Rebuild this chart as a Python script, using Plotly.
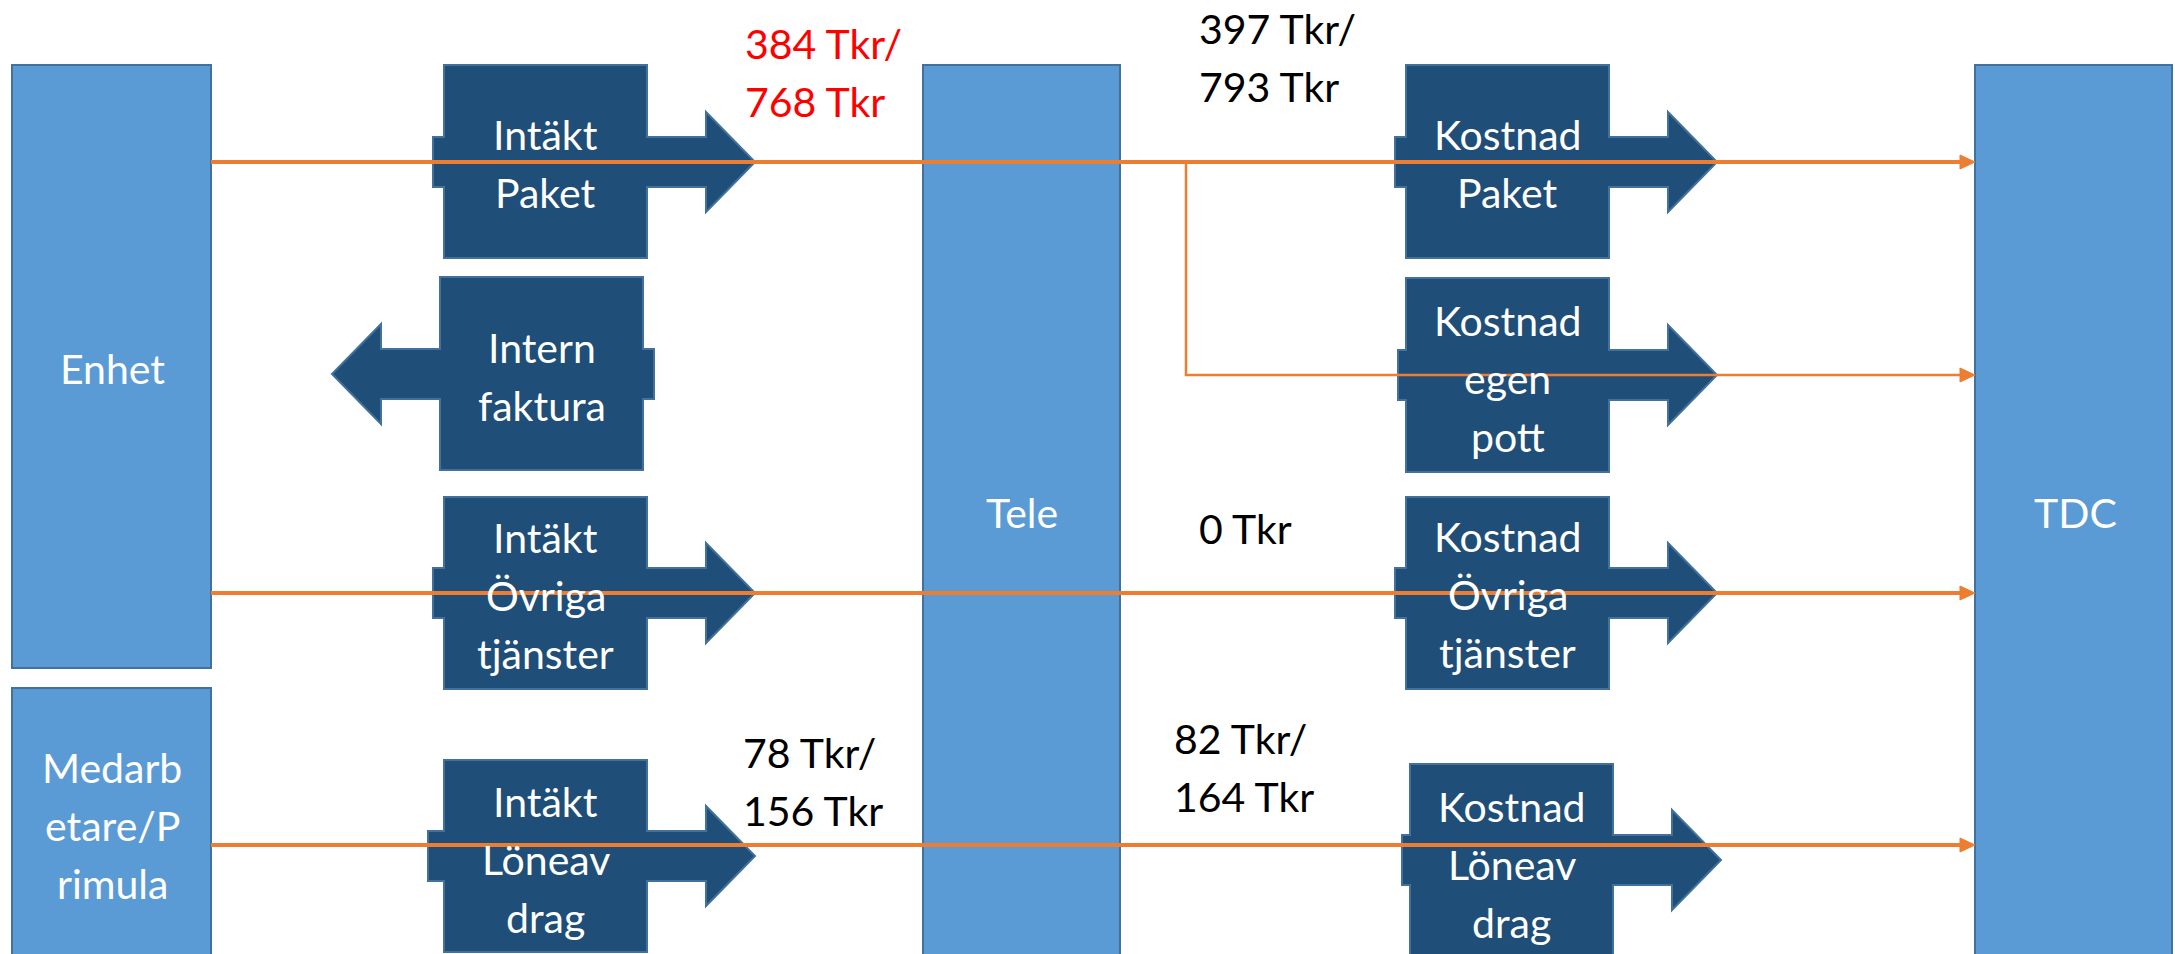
import plotly.graph_objects as go

# ---------------- data (labels / values) ----------------
entity_labels = ["Enhet", "Medarb<br>etare/P<br>rimula", "Tele", "TDC"]
income_labels = ["Intäkt<br>Paket", "Intern<br>faktura", "Intäkt<br>Övriga<br>tjänster", "Intäkt<br>Löneav<br>drag"]
cost_labels = ["Kostnad<br>Paket", "Kostnad<br>egen<br>pott", "Kostnad<br>Övriga<br>tjänster", "Kostnad<br>Löneav<br>drag"]
amount_labels = ["384 Tkr/<br>768 Tkr", "397 Tkr/<br>793 Tkr", "0 Tkr", "78 Tkr/<br>156 Tkr", "82 Tkr/<br>164 Tkr"]
amount_colors = ["#FF0000", "#000000", "#000000", "#000000", "#000000"]

# ---------------- geometry (pixel layout of the diagram) ----------------
W, H = 2175, 954
LIGHT, LIGHT_LINE = "#5B9BD5", "#41719C"
DARK, DARK_LINE = "#1F4E79", "#41719C"
ORANGE = "#ED7D31"
FONT = "Lato"
FS = 41
LINE_GAP = 58

entity_geom = [  # x0, x1, y0, y1, text center x, text center y
    (12, 211, 65, 668, 112, 368),
    (12, 211, 688, 970, 112, 825),
    (923, 1120, 65, 970, 1022, 512),
    (1975, 2172, 65, 970, 2075, 512),
]
# x0, x1, y0, y1, cy, direction, stub, text center y
income_geom = [
    (444, 647, 65, 258, 162, 1, 11, 163),
    (440, 643, 277, 470, 374, -1, 11, 376),
    (444, 647, 497, 689, 593, 1, 11, 595),
    (444, 647, 760, 952, 856, 1, 16, 859),
]
cost_geom = [
    (1406, 1609, 65, 258, 162, 1, 11, 163),
    (1406, 1609, 278, 472, 375, 1, 8, 378),
    (1406, 1609, 497, 689, 593, 1, 11, 594),
    (1410, 1613, 764, 970, 860, 1, 8, 864),
]
amount_geom = [(743, 72), (1197, 57), (1197, 528), (741, 781), (1172, 767)]

shapes = []
annotations = []


def add_text_lines(text, cx, cy, color, anchor="center"):
    lines = text.split("<br>")
    n = len(lines)
    for i, ln in enumerate(lines):
        y = cy + (i - (n - 1) / 2) * LINE_GAP
        annotations.append(dict(
            x=cx, y=y, xref="x", yref="y", text=ln, showarrow=False,
            xanchor=anchor, yanchor="middle",
            font=dict(family=FONT, size=FS, color=color)))


def arrow_path(x0, x1, y0, y1, cy, d, stub):
    sh, hh = 25, 50
    if d == 1:
        xs, tip = x1 + 59, x1 + 108
        pts = [(x0, y0), (x1, y0), (x1, cy - sh), (xs, cy - sh), (xs, cy - hh), (tip, cy),
               (xs, cy + hh), (xs, cy + sh), (x1, cy + sh), (x1, y1), (x0, y1),
               (x0, cy + sh), (x0 - stub, cy + sh), (x0 - stub, cy - sh), (x0, cy - sh)]
    else:
        xs, tip = x0 - 59, x0 - 108
        pts = [(x1, y0), (x0, y0), (x0, cy - sh), (xs, cy - sh), (xs, cy - hh), (tip, cy),
               (xs, cy + hh), (xs, cy + sh), (x0, cy + sh), (x0, y1), (x1, y1),
               (x1, cy + sh), (x1 + stub, cy + sh), (x1 + stub, cy - sh), (x1, cy - sh)]
    return "M " + " L ".join(f"{px},{py}" for px, py in pts) + " Z"


# entity boxes
for lab, (x0, x1, y0, y1, tx, ty) in zip(entity_labels, entity_geom):
    shapes.append(dict(type="rect", xref="x", yref="y", x0=x0, x1=x1, y0=y0, y1=y1,
                       fillcolor=LIGHT, line=dict(color=LIGHT_LINE, width=2), layer="below"))
    add_text_lines(lab, tx, ty, "white")

# arrow callouts
for lab, (x0, x1, y0, y1, cy, d, stub, ty) in list(zip(income_labels, income_geom)) + list(zip(cost_labels, cost_geom)):
    shapes.append(dict(type="path", xref="x", yref="y", path=arrow_path(x0, x1, y0, y1, cy, d, stub),
                       fillcolor=DARK, line=dict(color=DARK_LINE, width=2), layer="below"))
    add_text_lines(lab, (x0 + x1) / 2, ty, "white")

# orange flow lines
TDC_X = 1975
flows = [  # polyline points, width
    ([(211, 162), (TDC_X - 13, 162)], 4),
    ([(1186, 162), (1186, 375), (TDC_X - 13, 375)], 2.5),
    ([(211, 593), (TDC_X - 13, 593)], 4),
    ([(211, 845), (TDC_X - 13, 845)], 4),
]
for pts, w in flows:
    path = "M " + " L ".join(f"{px},{py}" for px, py in pts)
    shapes.append(dict(type="path", xref="x", yref="y", path=path,
                       line=dict(color=ORANGE, width=w), layer="above"))
    ex, ey = pts[-1]
    shapes.append(dict(type="path", xref="x", yref="y",
                       path=f"M {ex-2},{ey-7} L {TDC_X},{ey} L {ex-2},{ey+7} Z",
                       fillcolor=ORANGE, line=dict(color=ORANGE, width=1), layer="above"))

# amount labels
for lab, col, (x, y) in zip(amount_labels, amount_colors, amount_geom):
    add_text_lines(lab, x, y, col, anchor="left")

fig = go.Figure()
fig.update_layout(
    width=W, height=H, margin=dict(l=0, r=0, t=0, b=0),
    paper_bgcolor="white", plot_bgcolor="white",
    xaxis=dict(range=[0, W], visible=False, fixedrange=True),
    yaxis=dict(range=[H, 0], visible=False, fixedrange=True),
    shapes=shapes, annotations=annotations, showlegend=False,
)
fig.write_html("out.html", post_script="document.body.style.margin='0';",
               config={"displayModeBar": False})
